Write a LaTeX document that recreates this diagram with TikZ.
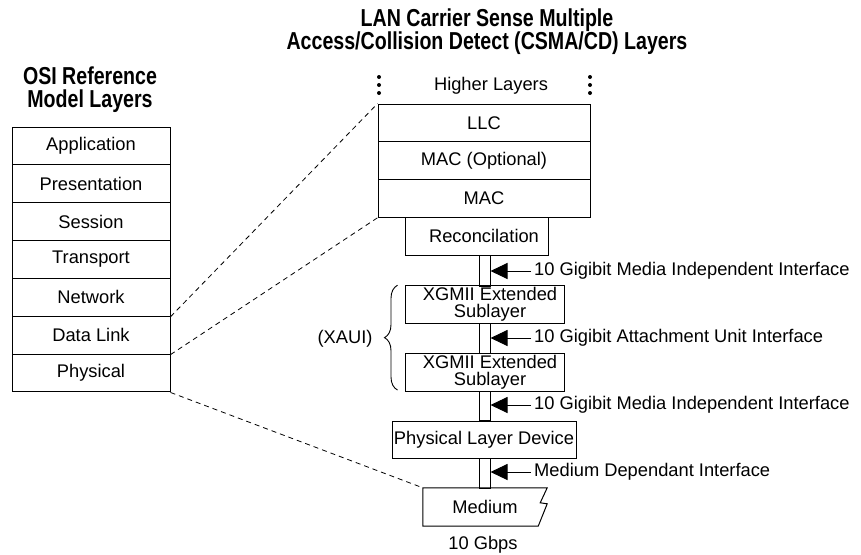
\documentclass[tikz,border=0pt]{standalone}
\usepackage{fontspec}
\setmainfont{Liberation Sans}
\newfontfamily\headfont[FakeStretch=0.8]{Liberation Sans}
\usetikzlibrary{arrows.meta,decorations.pathreplacing}

\tikzset{
  layer/.style={draw, line width=1pt, rectangle, inner sep=0pt, align=center},
  bar/.style={draw, line width=1pt, minimum width=11pt, minimum height=30pt, inner sep=0pt},
  ifarrow/.style={line width=1pt, -{Triangle[length=17pt,width=16pt]}},
  link/.style={dash pattern=on 5pt off 4pt, line width=0.8pt},
  iflabel/.style={anchor=west, inner sep=3pt},
  title/.style={font=\headfont\bfseries\fontsize{24.5}{23}\selectfont, align=center}
}

\begin{document}
\begin{tikzpicture}[x=1pt,y=-1pt, font=\fontsize{18.3}{17.5}\selectfont]
\useasboundingbox (0,0) rectangle (861,554);
% titles
\node[title] (osititle) at (90,90) {OSI Reference\\Model Layers};
\node[title] (lantitle) at (487,32) {LAN Carrier Sense Multiple\\Access/Collision Detect (CSMA/CD) Layers};
% OSI stack
\foreach \name [count=\i] in {Application,Presentation,Session,Transport,Network,Data Link,Physical}
  \node[layer, minimum width=158pt, minimum height=37.85pt] (osi\i) at (91,108.075+37.85*\i) {\name};
% CSMA/CD stack
\node (higher) at (491,86) {Higher Layers};
\foreach \x in {379,590} \foreach \y in {77,85,93}
  \fill (\x,\y) circle (2pt);
\node[layer, minimum width=212pt, minimum height=37.7pt] (llc) at (484,123) {LLC};
\node[layer, minimum width=212pt, minimum height=37.7pt] (macopt) at (484,160.7) {MAC (Optional)};
\node[layer, minimum width=212pt, minimum height=37.7pt] (mac) at (484,198.4) {MAC};
\node[layer, minimum width=143pt, minimum height=38pt] (rec) at (476.5,236.2) {\hspace*{15pt}Reconcilation};
\node[layer, minimum width=159pt, minimum height=37.5pt] (xgs1) at (484.5,304.5) {\hspace*{11pt}XGMII Extended\\\hspace*{11pt}Sublayer};
\node[layer, minimum width=159pt, minimum height=38pt] (xgs2) at (484.5,372.5) {\hspace*{11pt}XGMII Extended\\\hspace*{11pt}Sublayer};
\node[layer, minimum width=184pt, minimum height=37pt] (phy) at (484,439.5) {Physical Layer Device};
\node[minimum width=124pt, minimum height=38pt, inner sep=0pt] (med) at (485,507) {Medium};
\draw[line width=1pt] (med.north west) -- (med.north east) -- ([xshift=-7pt,yshift=-15pt]med.north east)
  -- ([yshift=-16pt]med.north east) -- ([xshift=-9pt]med.south east) -- (med.south west) -- cycle;
\node (rate) at (483,545) {10 Gbps};
% interfaces
\node[bar, minimum height=31pt] (bar1) at (484.5,270.6) {};
\node[bar, minimum height=30pt] (bar2) at (484.5,338.1) {};
\node[bar, minimum height=29.5pt] (bar3) at (484.5,406.2) {};
\node[bar, minimum height=30pt] (bar4) at (484.5,473) {};
\node[iflabel] (if1) at (531,271) {10 Gigibit Media Independent Interface};
\node[iflabel] (if2) at (531,338) {10 Gigibit Attachment Unit Interface};
\node[iflabel] (if3) at (531,405) {10 Gigibit Media Independent Interface};
\node[iflabel] (if4) at (531,472) {Medium Dependant Interface};
\foreach \i in {1,2,3,4}
  \draw[ifarrow] (if\i.west) -- (bar\i.east |- if\i.west);
% XAUI brace
\node (xaui) at (345,339) {(XAUI)};
\draw[line width=0.9pt, decorate, decoration={brace, amplitude=13pt}]
  ([xshift=-7pt,yshift=2pt]xgs2.south west) -- ([xshift=-7pt]xgs1.north west);
% mapping
\draw[link] (osi5.south east) -- (llc.north west);
\draw[link] (osi6.south east) -- (mac.south west);
\draw[link] (osi7.south east) -- (med.north west);
\end{tikzpicture}
\end{document}
